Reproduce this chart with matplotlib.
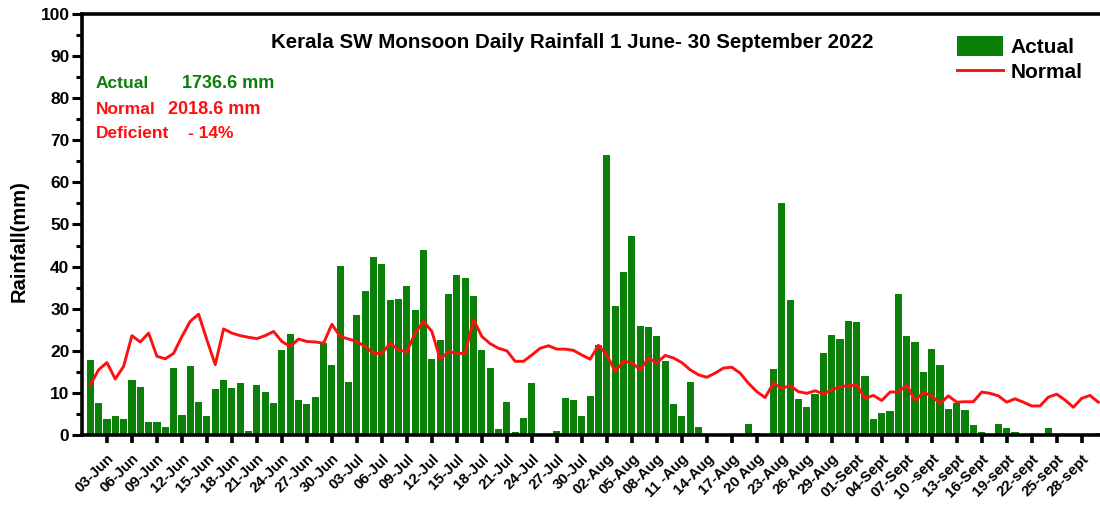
import matplotlib
matplotlib.use("Agg")
import matplotlib.pyplot as plt
import matplotlib.transforms as mtransforms
import numpy as np
from matplotlib.ticker import MultipleLocator

# ---------------- data ----------------
actual_jun = [17.9, 7.5, 3.7, 4.5, 3.9, 13.0, 11.3, 3.2, 3.0, 2.0, 15.8, 4.8, 16.4, 7.9, 4.4,
              11.0, 13.1, 11.2, 12.3, 1.0, 11.9, 10.3, 7.7, 20.1, 24.0, 8.4, 7.4, 9.0, 21.8, 16.6]
actual_jul = [40.1, 12.7, 28.6, 34.1, 42.2, 40.5, 32.0, 32.3, 35.5, 29.8, 44.0, 18.0, 22.6, 33.6,
              37.9, 37.3, 33.1, 20.1, 16.0, 1.4, 7.9, 0.6, 4.1, 12.3, 0.3, 0.3, 1.0, 8.9, 8.4, 4.5, 9.3]
actual_aug = [21.4, 66.5, 30.6, 38.7, 47.2, 26.0, 25.6, 23.4, 17.6, 7.3, 4.4, 12.5, 2.0, 0.2, 0.3,
              0, 0, 0, 2.5, 0.5, 0, 15.7, 55.0, 32.0, 8.5, 6.6, 9.8, 19.4, 23.7, 22.9, 27.0]
actual_sep = [26.9, 14.0, 3.9, 5.2, 5.6, 33.6, 23.6, 22.0, 14.9, 20.4, 16.7, 6.1, 7.5, 6.0, 2.4,
              0.7, 0, 2.6, 1.6, 0.8, 0, 0, 0, 1.6, 0, 0, 0, 0, 0, 0.5]

normal_jun = [11.9, 15.5, 17.2, 13.3, 16.3, 23.6, 22.1, 24.2, 18.7, 18.1, 19.4, 23.4, 27.0, 28.7, 22.6,
              16.7, 25.2, 24.2, 23.6, 23.2, 22.9, 23.6, 24.6, 22.2, 21.0, 22.8, 22.2, 22.1, 21.8, 26.3]
normal_jul = [23.4, 22.8, 22.2, 21.0, 19.4, 19.4, 21.8, 20.2, 19.8, 24.2, 27.0, 24.6, 18.0, 19.8,
              19.4, 19.4, 27.4, 23.4, 21.7, 20.6, 20.0, 17.5, 17.5, 19.0, 20.6, 21.2, 20.4, 20.4,
              20.1, 19.0, 18.0]
normal_aug = [21.3, 19.0, 15.1, 17.5, 17.2, 15.5, 18.3, 17.1, 18.9, 18.3, 17.2, 15.5, 14.3, 13.7,
              14.7, 15.9, 16.1, 14.7, 12.3, 10.3, 8.9, 12.3, 11.1, 11.7, 10.3, 9.9, 10.5, 9.8, 10.7,
              11.5, 11.7]
normal_sep = [11.9, 8.7, 9.4, 8.2, 10.2, 10.2, 11.9, 8.2, 10.1, 9.3, 7.5, 9.3, 7.8, 7.9, 7.9,
              10.2, 9.9, 9.3, 7.8, 8.6, 7.8, 6.9, 6.9, 9.0, 9.7, 8.3, 6.6, 8.7, 9.4, 7.8]

tick_days = [2, 5, 8, 11, 14, 17, 20, 23, 26, 29, 32, 35, 38, 41, 44, 47, 50, 53, 56, 59,
             62, 65, 68, 71, 74, 77, 80, 83, 86, 89, 92, 95, 98, 101, 104, 107, 110, 113, 116, 119]
tick_labels = ["03-Jun", "06-Jun", "09-Jun", "12-Jun", "15-Jun", "18-Jun", "21-Jun", "24-Jun",
               "27-Jun", "30-Jun", "03-Jul", "06-Jul", "09-Jul", "12-Jul", "15-Jul", "18-Jul",
               "21-Jul", "24-Jul", "27-Jul", "30-Jul", "02-Aug", "05-Aug", "08-Aug", "11 -Aug",
               "14-Aug", "17-Aug", "20 Aug", "23-Aug", "26-Aug", "29-Aug", "01-Sept", "04-Sept",
               "07-Sept", "10 -sept", "13-sept", "16-Sept", "19-sept", "22-sept", "25-sept", "28-sept"]

title = "Kerala SW Monsoon Daily Rainfall 1 June- 30 September 2022"
# --------------------------------------

actual = np.array(actual_jun + actual_jul + actual_aug + actual_sep)
normal = np.array(normal_jun + normal_jul + normal_aug + normal_sep)
days = np.arange(len(actual))

plt.rcParams['font.family'] = ['Liberation Sans', 'DejaVu Sans']
plt.rcParams['font.weight'] = 'bold'

fig = plt.figure(figsize=(11, 5.05), dpi=100)
ax = fig.add_axes([0.0745, 0.1386, 0.9255, 0.8337])

green = '#0a7f0a'
red = '#ff1010'
bars = ax.bar(days, actual, width=0.86, color=green, edgecolor='none', label='Actual', zorder=2)
line, = ax.plot(days, normal, color=red, lw=2.1, label='Normal', zorder=3)

ax.set_xlim(-1.0, 121.2)
ax.set_ylim(0, 100)
ax.yaxis.set_major_locator(MultipleLocator(10))
ax.yaxis.set_minor_locator(MultipleLocator(5))
ax.set_xticks(tick_days)
ax.set_xticklabels(tick_labels, rotation=45, ha='right', rotation_mode='anchor',
                   fontsize=10.8, fontweight='bold')
offset = mtransforms.ScaledTranslation(0.07, 0, fig.dpi_scale_trans)
for lab in ax.get_xticklabels():
    lab.set_transform(lab.get_transform() + offset)
for lab in ax.get_yticklabels():
    lab.set_fontsize(12.5)
    lab.set_fontweight('bold')

for s in ['left', 'bottom', 'top']:
    ax.spines[s].set_linewidth(2.6)
ax.spines['right'].set_visible(False)
ax.tick_params(axis='x', which='major', direction='out', length=6, width=2.6, pad=6)
ax.tick_params(axis='y', which='major', direction='out', length=7, width=2.2, pad=2)
ax.tick_params(axis='y', which='minor', direction='out', length=4, width=2.2)
ax.tick_params(top=False)

ax.set_ylabel('Rainfall(mm)', fontsize=14.5, fontweight='bold')
ax.yaxis.set_label_coords(-0.052, 0.46)

narrow = ['Liberation Sans Narrow', 'Liberation Sans', 'DejaVu Sans']
fig.text(572 / 1100, 1 - 42 / 505, title, ha='center', va='center', fontsize=14.8,
         fontweight='bold', family=narrow)

fig.text(96 / 1100, 1 - 83 / 505, 'Actual', color=green, fontsize=12.5, fontweight='bold', va='center')
fig.text(182 / 1100, 1 - 83 / 505, '1736.6 mm', color=green, fontsize=13, fontweight='bold', va='center')
fig.text(96 / 1100, 1 - 109 / 505, 'Normal', color=red, fontsize=12.5, fontweight='bold', va='center')
fig.text(168 / 1100, 1 - 109 / 505, '2018.6 mm', color=red, fontsize=13, fontweight='bold', va='center')
fig.text(96 / 1100, 1 - 134 / 505, 'Deficient', color=red, fontsize=12.5, fontweight='bold', va='center')
fig.text(188 / 1100, 1 - 134 / 505, '- 14%', color=red, fontsize=12.5, fontweight='bold', va='center')

leg = fig.legend(handles=[bars, line], labels=['Actual', 'Normal'], loc='upper left',
                 bbox_to_anchor=(957 / 1100, 1 - 36 / 505), frameon=False,
                 prop={'family': narrow, 'weight': 'bold', 'size': 15},
                 handlelength=2.2, handleheight=1.1, handletextpad=0.35, labelspacing=0.2,
                 borderpad=0, borderaxespad=0)

fig.savefig('out.png', dpi=100)
